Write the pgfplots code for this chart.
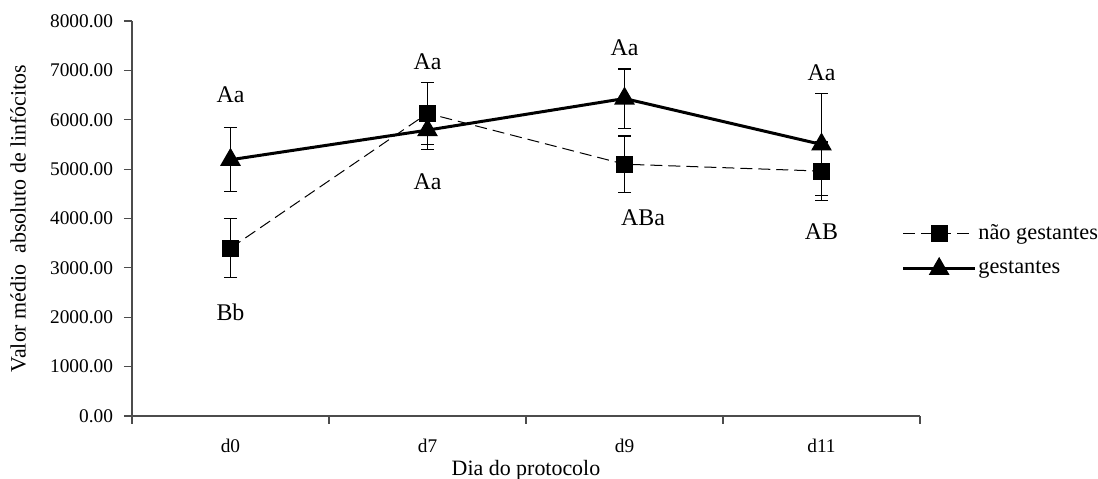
\documentclass[border=0pt]{standalone}
\usepackage{fontspec}
\setmainfont{Liberation Serif}
\usepackage{pgfplots}
\pgfplotsset{compat=1.18}
\pgfplotstableread{
x y e
0 3400 600
1 6130 630
2 5100 570
3 4960 590
}\naogest
\pgfplotstableread{
x y e
0 5190 650
1 5790 400
2 6430 600
3 5500 1030
}\gest
\begin{document}
\begin{tikzpicture}
\path[use as bounding box] (-66bp,-31.5bp) rectangle (483bp,208bp);
\begin{axis}[
  at={(0bp,0bp)}, anchor=south west,
  scale only axis, width=394bp, height=197.5bp,
  xmin=-0.5, xmax=3.5, ymin=0, ymax=8000,
  axis x line*=bottom, axis y line*=left,
  axis line style={-, gray!60!black, line width=0.6pt},
  xtick={-0.5,0.5,1.5,2.5,3.5}, x tick label as interval,
  xticklabels={d0,d7,d9,d11},
  ytick={0,1000,...,8000},
  tick align=outside, major tick length=4bp,
  tick style={gray!60!black, line width=0.6pt},
  yticklabel style={xshift=-2bp, /pgf/number format/.cd, fixed, fixed zerofill, precision=2, 1000 sep={}, assume math mode=true},
  ticklabel style={font=\fontsize{9.7}{11}\selectfont},
  xticklabel style={yshift=-4bp},
  xlabel={Dia do protocolo},
  ylabel={Valor médio\ \ absoluto de linfócitos},
  label style={font=\fontsize{11}{12}\selectfont},
  xlabel style={at={(axis description cs:0.5,-0.137)}, anchor=center},
  ylabel style={at={(axis description cs:-0.1447,0.5)}, anchor=center},
  legend style={at={(rel axis cs:0.969,0.507)}, anchor=north west, draw=none, fill=none,
    font=\fontsize{11.2}{12}\selectfont, row sep=5.5bp, nodes={inner xsep=1bp}},
  legend cell align=left,
  legend image code/.code={\draw[mark repeat=2,mark phase=2,#1] plot coordinates {(0cm,0cm) (0.63cm,0cm) (1.26cm,0cm)};},
  clip=false,
]
\addplot[black, line width=0.5bp, dash pattern=on 6bp off 3bp, mark=square*, mark size=4bp, mark options={solid},
  error bars/.cd, y dir=both, y explicit,
  error bar style={solid, line width=0.6pt, black},
  error mark options={solid, rotate=90, mark size=3.25bp, line width=0.6pt}]
  table[x=x, y=y, y error=e] {\naogest};
\addlegendentry{não gestantes}
\addplot[black, line width=1.5bp, mark=triangle*, mark size=4.5bp, mark options={solid},
  error bars/.cd, y dir=both, y explicit,
  error bar style={solid, line width=0.6pt, black},
  error mark options={solid, rotate=90, mark size=3.25bp, line width=0.6pt}]
  table[x=x, y=y, y error=e] {\gest};
\addlegendentry{gestantes}
\begin{scope}[every node/.style={font=\fontsize{12}{13}\selectfont}]
\node at (axis cs:0,6498) {Aa};
\node at (axis cs:0,2105) {Bb};
\node at (axis cs:1,7166) {Aa};
\node at (axis cs:1,4737) {Aa};
\node at (axis cs:2,7449) {Aa};
\node at (axis cs:2.094,4008) {ABa};
\node at (axis cs:3,6943) {Aa};
\node at (axis cs:3,3725) {AB};
\end{scope}
\end{axis}
\end{tikzpicture}
\end{document}
